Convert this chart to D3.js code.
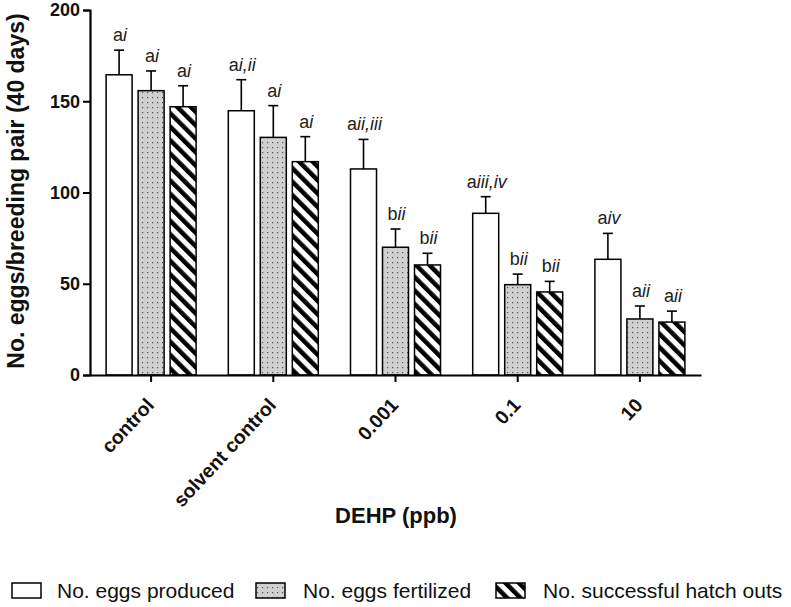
<!DOCTYPE html>
<html>
<head>
<meta charset="utf-8">
<title>DEHP eggs</title>
<script src="https://cdn.jsdelivr.net/npm/d3@7"></script>
<style>
  body { margin: 0; background: #fff; }
  svg { font-family: "Liberation Sans", Arial, sans-serif; }
</style>
</head>
<body>
<svg id="chart" width="791" height="607"></svg>
<script>
// data
var categories = ["control", "solvent control", "0.001", "0.1", "10"];
var seriesNames = ["No. eggs produced", "No. eggs fertilized", "No. successful hatch outs"];
var produced   = [164.5, 144.8, 112.9, 88.6, 63.4];
var fertilized = [155.8, 130.2, 70.0, 49.5, 30.7];
var hatched    = [147.0, 116.9, 60.3, 45.5, 29.0];
var producedErr   = [13.5, 17.0, 16.2, 9.1, 14.2];
var fertilizedErr = [10.8, 17.4, 10.0, 5.8, 7.1];
var hatchedErr    = [11.5, 13.7, 6.4, 5.8, 6.0];
// significance letters (upright) + roman numerals (italic)
var producedSig   = [["a","i"], ["a","i,ii"], ["a","ii,iii"], ["a","iii,iv"], ["a","iv"]];
var fertilizedSig = [["a","i"], ["a","i"], ["b","ii"], ["b","ii"], ["a","ii"]];
var hatchedSig    = [["a","i"], ["a","i"], ["b","ii"], ["b","ii"], ["a","ii"]];
var yTicks = [0, 50, 100, 150, 200];

var values = [produced, fertilized, hatched];
var errs = [producedErr, fertilizedErr, hatchedErr];
var sigs = [producedSig, fertilizedSig, hatchedSig];

var svg = d3.select("#chart");

// patterns
var defs = svg.append("defs");
var dots = defs.append("pattern").attr("id", "dots")
    .attr("patternUnits", "userSpaceOnUse").attr("width", 5).attr("height", 5);
dots.append("rect").attr("width", 5).attr("height", 5).attr("fill", "#d0d0d0");
dots.append("rect").attr("x", 2).attr("y", 2).attr("width", 1.2).attr("height", 1.2).attr("fill", "#555");

var hatch = defs.append("pattern").attr("id", "hatch")
    .attr("patternUnits", "userSpaceOnUse").attr("width", 9.5).attr("height", 9.5)
    .attr("patternTransform", "rotate(-45)");
hatch.append("rect").attr("width", 9.5).attr("height", 9.5).attr("fill", "#fff");
hatch.append("rect").attr("width", 4.5).attr("height", 9.5).attr("fill", "#000");

var fills = ["#fff", "url(#dots)", "url(#hatch)"];

var x0 = d3.scaleBand().domain(categories).range([90, 701]);
var x1 = d3.scaleBand().domain(d3.range(3)).range([0, 90]).paddingInner(0.1875).paddingOuter(0);
var y = d3.scaleLinear().domain([0, 200]).range([375, 10]);

function barX(ci, si) {
  return x0(categories[ci]) + x0.bandwidth() / 2 - 45 + x1(si);
}

var rows = [];
categories.forEach(function (c, ci) {
  for (var si = 0; si < 3; si++) {
    rows.push({ci: ci, si: si, v: values[si][ci], e: errs[si][ci], s: sigs[si][ci]});
  }
});

var g = svg.append("g");

// error bars (upper only)
var eb = g.selectAll("g.err").data(rows).enter().append("g").attr("class", "err")
    .attr("stroke", "#000").attr("stroke-width", 1.6);
eb.append("line")
    .attr("x1", function (d) { return barX(d.ci, d.si) + x1.bandwidth() / 2; })
    .attr("x2", function (d) { return barX(d.ci, d.si) + x1.bandwidth() / 2; })
    .attr("y1", function (d) { return y(d.v); })
    .attr("y2", function (d) { return y(d.v + d.e); });
eb.append("line")
    .attr("x1", function (d) { return barX(d.ci, d.si) + x1.bandwidth() / 2 - 5; })
    .attr("x2", function (d) { return barX(d.ci, d.si) + x1.bandwidth() / 2 + 5; })
    .attr("y1", function (d) { return y(d.v + d.e); })
    .attr("y2", function (d) { return y(d.v + d.e); });

g.selectAll("rect.bar").data(rows).enter().append("rect").attr("class", "bar")
    .attr("x", function (d) { return barX(d.ci, d.si); })
    .attr("y", function (d) { return y(d.v); })
    .attr("width", x1.bandwidth())
    .attr("height", function (d) { return y(0) - y(d.v); })
    .attr("fill", function (d) { return fills[d.si]; })
    .attr("stroke", "#000").attr("stroke-width", 1.5);

// significance labels
var lab = g.selectAll("text.sig").data(rows).enter().append("text").attr("class", "sig")
    .attr("x", function (d) { return barX(d.ci, d.si) + x1.bandwidth() / 2 + 1; })
    .attr("y", function (d) { return y(d.v + d.e) - 9; })
    .attr("text-anchor", "middle")
    .attr("font-size", 18).attr("fill", "#222");
lab.append("tspan").text(function (d) { return d.s[0]; });
lab.append("tspan").attr("font-style", "italic").text(function (d) { return d.s[1]; });

// y axis
var yAxis = svg.append("g").attr("transform", "translate(90,0)")
    .call(d3.axisLeft(y).tickValues(yTicks).tickSize(7).tickPadding(3));
yAxis.select(".domain").attr("stroke-width", 2.2);
yAxis.selectAll(".tick line").attr("stroke-width", 2);
yAxis.selectAll(".tick text").attr("font-size", 18).attr("font-weight", "bold")
    .attr("font-family", "Liberation Sans, Arial, sans-serif").attr("fill", "#111");

// x axis
var xAxis = svg.append("g").attr("transform", "translate(0,375)")
    .call(d3.axisBottom(x0).tickSize(7).tickSizeOuter(0));
xAxis.select(".domain").attr("stroke-width", 2.2);
xAxis.selectAll(".tick line").attr("stroke-width", 2);
xAxis.selectAll(".tick text")
    .attr("font-size", 19.5).attr("font-weight", "bold")
    .attr("font-family", "Liberation Sans, Arial, sans-serif").attr("fill", "#111")
    .attr("text-anchor", "end")
    .attr("x", 0).attr("y", 0).attr("dy", 0)
    .attr("transform", "translate(4,31) rotate(-47)");

// axis titles
svg.append("text")
    .attr("transform", "translate(24,191) rotate(-90)")
    .attr("text-anchor", "middle")
    .attr("font-size", 23).attr("font-weight", "bold").attr("fill", "#111")
    .text("No. eggs/breeding pair (40 days)");

svg.append("text")
    .attr("x", 396).attr("y", 523)
    .attr("text-anchor", "middle")
    .attr("font-size", 22).attr("font-weight", "bold").attr("fill", "#111")
    .text("DEHP (ppb)");

// legend
var legendBoxX = [12, 256, 496];
var legendTextX = [57, 303, 543];
var lg = svg.append("g");
seriesNames.forEach(function (name, i) {
  lg.append("rect").attr("x", legendBoxX[i]).attr("y", 583).attr("width", 29).attr("height", 15)
      .attr("fill", fills[i]).attr("stroke", "#000").attr("stroke-width", 1.5);
  lg.append("text").attr("x", legendTextX[i]).attr("y", 598)
      .attr("font-size", 21).attr("fill", "#111")
      .text(name);
});
</script>
</body>
</html>
